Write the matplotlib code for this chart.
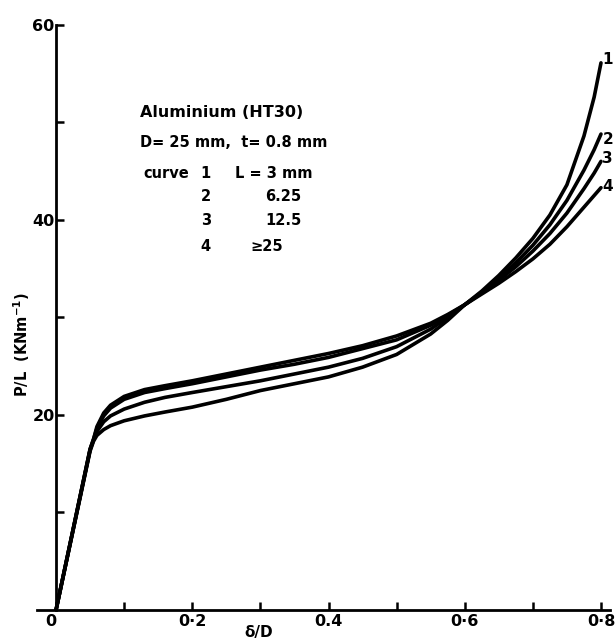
import matplotlib
matplotlib.use("Agg")
import matplotlib.pyplot as plt

# curve data (delta/D, P/L in kN/m)
x_pre = [0.0, 0.05, 0.055, 0.06, 0.07, 0.08, 0.10, 0.13, 0.16, 0.20, 0.25, 0.30,
         0.35, 0.40, 0.45, 0.50, 0.55, 0.575, 0.60]
c1_pre = [0.0, 16.3, 17.3, 17.9, 18.5, 18.9, 19.4, 19.9, 20.3, 20.8, 21.6, 22.5,
          23.2, 23.9, 24.9, 26.2, 28.3, 29.7, 31.3]
c2_pre = [0.0, 16.4, 17.4, 18.3, 19.3, 19.9, 20.6, 21.3, 21.8, 22.3, 22.9, 23.5,
          24.2, 24.9, 25.8, 27.0, 28.8, 30.0, 31.3]
c3_pre = [0.0, 16.5, 17.5, 18.6, 19.9, 20.7, 21.6, 22.3, 22.7, 23.2, 23.9, 24.6,
          25.2, 25.9, 26.8, 27.7, 29.2, 30.2, 31.3]
c4_pre = [0.0, 16.5, 17.5, 18.8, 20.2, 21.0, 21.9, 22.6, 23.0, 23.5, 24.2, 24.9,
          25.6, 26.3, 27.1, 28.1, 29.4, 30.3, 31.3]

x_post = [0.625, 0.65, 0.675, 0.70, 0.725, 0.75, 0.775, 0.79, 0.80]
c1_post = [32.7, 34.3, 36.1, 38.1, 40.5, 43.6, 48.6, 52.6, 56.1]
c2_post = [32.6, 34.0, 35.6, 37.4, 39.5, 42.0, 45.1, 47.2, 48.8]
c3_post = [32.5, 33.8, 35.2, 36.8, 38.6, 40.7, 43.2, 44.8, 46.0]
c4_post = [32.4, 33.5, 34.7, 36.0, 37.5, 39.3, 41.3, 42.5, 43.3]

curve_names = ["1", "2", "3", "4"]
label_y = [56.4, 48.2, 46.3, 43.4]
L_values = ["L = 3 mm", "6.25", "12.5", "≥25"]

fig = plt.figure(figsize=(6.16, 6.39), dpi=100)
ax = fig.add_axes([0.060, 0.0454, 0.930, 0.931])

curves = [
    (x_pre + x_post, c1_pre + c1_post),
    (x_pre + x_post, c2_pre + c2_post),
    (x_pre + x_post, c3_pre + c3_post),
    (x_pre + x_post, c4_pre + c4_post),
]
for xs, ys in curves:
    ax.plot(xs, ys, color="black", lw=2.6, solid_capstyle="round", solid_joinstyle="round")

for name, yl in zip(curve_names, label_y):
    ax.text(0.802, yl, name, fontsize=11, fontweight="bold", ha="left", va="center", clip_on=False)

ax.set_xlim(-0.028, 0.813)
ax.set_ylim(0, 61)

for s in ["top", "right"]:
    ax.spines[s].set_visible(False)
ax.spines["left"].set_position(("data", 0))
ax.spines["left"].set_bounds(0, 60)
ax.spines["left"].set_linewidth(2)
ax.spines["bottom"].set_linewidth(2)

ax.set_xticks([0, 0.2, 0.4, 0.6, 0.8])
ax.set_xticklabels(["0", "0·2", "0.4", "0·6", "0·8"])
ax.set_xticks([0.1, 0.3, 0.5, 0.7], minor=True)
ax.set_yticks([20, 40, 60])
ax.set_yticklabels(["20", "40", "60"])
ax.set_yticks([10, 30, 50], minor=True)

ax.tick_params(which="both", direction="in", width=1.8, length=6, pad=3)
ax.tick_params(axis="y", which="both", pad=1)
for lab in ax.get_xticklabels() + ax.get_yticklabels():
    lab.set_fontsize(11.5)
    lab.set_fontweight("bold")
ax.get_xticklabels()[0].set_horizontalalignment("right")

ax.text(-0.05, 27.2, "P/L  (KNm$^{\\mathbf{-1}}$)", rotation=90, fontsize=10.5,
        fontweight="bold", ha="center", va="center")
ax.text(0.297, -2.3, "δ/D", fontsize=11, fontweight="bold", ha="center", va="center", clip_on=False)

# legend block
ax.text(0.123, 51.0, "Aluminium (HT30)", fontsize=11.5, fontweight="bold", va="center")
ax.text(0.123, 47.9, "D= 25 mm,  t= 0.8 mm", fontsize=10.5, fontweight="bold", va="center")
ax.text(0.128, 44.8, "curve", fontsize=10.5, fontweight="bold", va="center")
rows_y = [44.8, 42.4, 39.9, 37.3]
for name, lv, yy in zip(curve_names, L_values, rows_y):
    ax.text(0.220, yy, name, fontsize=10.5, fontweight="bold", ha="center", va="center")
    xl = 0.263 if lv.startswith("L") else (0.285 if lv.startswith("≥") else 0.307)
    ax.text(xl, yy, lv, fontsize=10.5, fontweight="bold", va="center")

fig.savefig("out.png", dpi=100)
